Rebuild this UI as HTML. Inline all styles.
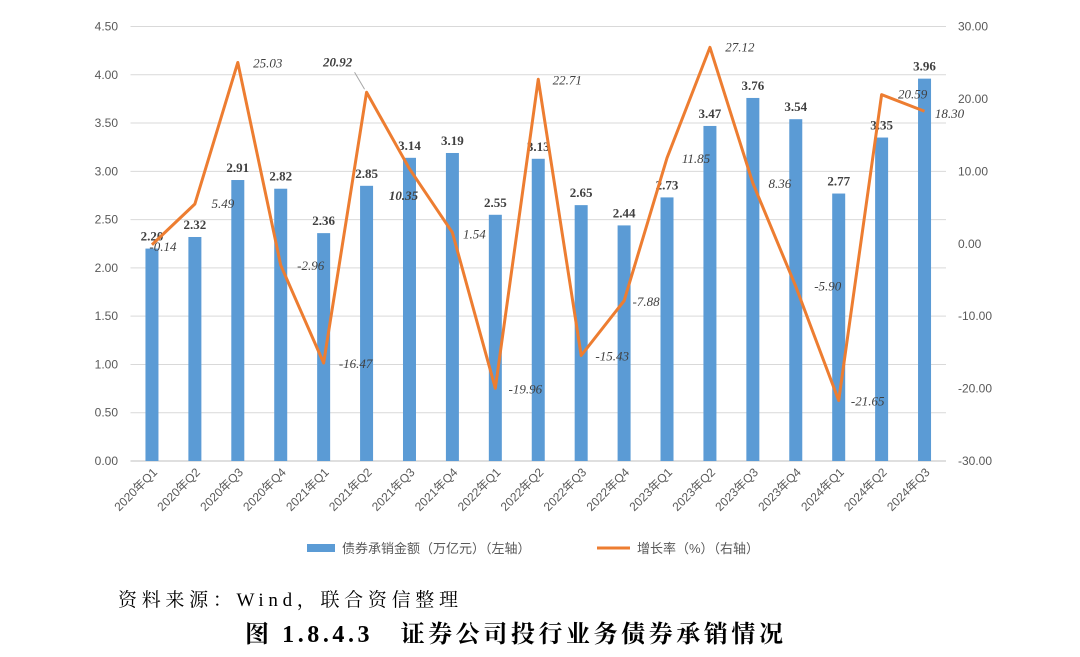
<!DOCTYPE html>
<html><head><meta charset="utf-8"><style>
body{margin:0;background:#fff;width:1080px;height:657px;overflow:hidden}
svg{display:block}
</style></head><body>
<svg id="c" width="1080" height="657" xmlns="http://www.w3.org/2000/svg"></svg>
<script>
const categories=["2020年Q1","2020年Q2","2020年Q3","2020年Q4","2021年Q1","2021年Q2","2021年Q3","2021年Q4","2022年Q1","2022年Q2","2022年Q3","2022年Q4","2023年Q1","2023年Q2","2023年Q3","2023年Q4","2024年Q1","2024年Q2","2024年Q3"];
const amounts=[2.20,2.32,2.91,2.82,2.36,2.85,3.14,3.19,2.55,3.13,2.65,2.44,2.73,3.47,3.76,3.54,2.77,3.35,3.96];
const growth=[-0.14,5.49,25.03,-2.96,-16.47,20.92,10.35,1.54,-19.96,22.71,-15.43,-7.88,11.85,27.12,8.36,-5.90,-21.65,20.59,18.30];
const leftTicks=[0,0.5,1,1.5,2,2.5,3,3.5,4,4.5];
const rightTicks=[-30,-20,-10,0,10,20,30];

const NS="http://www.w3.org/2000/svg";
const svg=document.getElementById('c');
const X0=130.5,X1=946,Y0=461,Y1=26.5;
const step=(X1-X0)/categories.length;
const xC=i=>X0+step*(i+0.5);
const yL=v=>Y0-(v/4.5)*(Y0-Y1);
const yR=v=>Y0-((v+30)/60)*(Y0-Y1);
function el(t,a,txt){const e=document.createElementNS(NS,t);for(const k in a)e.setAttribute(k,a[k]);if(txt!==undefined)e.textContent=txt;svg.appendChild(e);return e;}
const serif='"Liberation Serif",serif';
const sans='"Liberation Sans","Noto Sans CJK SC",sans-serif';

leftTicks.forEach(v=>{
  const g=el('line',{x1:X0,x2:X1,y1:yL(v),y2:yL(v),stroke:v===0?'#bfbfbf':'#d9d9d9','stroke-width':1});
  
  
  const t=el('text',{x:118,y:yL(v)+4,'text-anchor':'end','font-family':sans,'font-size':12,fill:'#595959'},v.toFixed(2));
  
  
});
rightTicks.forEach(v=>{
  const t=el('text',{x:958,y:yR(v)+4,'text-anchor':'start','font-family':sans,'font-size':12,fill:'#595959'},v.toFixed(2));
  
  
});
categories.forEach((c,i)=>{
  const x=xC(i);
  const b=el('rect',{x:x-6.5,y:yL(amounts[i]),width:13,height:Y0-yL(amounts[i]),fill:'#5B9BD5'});
  
  
  const t=el('text',{x:x,y:yL(amounts[i])-8,'text-anchor':'middle','font-family':serif,'font-size':13,'font-weight':'bold',fill:'#404040'},amounts[i].toFixed(2));
  
  
  const xl=el('text',{x:x+6,y:Y0+12,'text-anchor':'end','font-family':sans,'font-size':12,fill:'#595959',transform:`rotate(-45 ${x+6} ${Y0+12})`},c);
  
  
});
const pts=growth.map((v,i)=>xC(i)+','+yR(v)).join(' ');
const line=el('polyline',{points:pts,fill:'none',stroke:'#ED7D31','stroke-width':3,'stroke-linejoin':'round'});


const offs=[[11,6],[28,4],[30,5],[30,5],[32,5],[-29,-26],[-6,31],[22,6],[30,5],[29,5],[31,5],[22,5],[29,5],[30,4],[27,5],[32,4],[29,5],[31,4],[25,7]];
growth.forEach((v,i)=>{
  const x=xC(i)+offs[i][0],y=yR(v)+offs[i][1];
  const bold=(i===5||i===6);
  const t=el('text',{x:x,y:y,'text-anchor':'middle','font-family':serif,'font-size':13,'font-style':'italic','font-weight':bold?'bold':'normal',fill:'#404040'},v.toFixed(2));
  
  
});
const ld=el('line',{x1:xC(5)-12,y1:yR(growth[5])-20,x2:xC(5)-2,y2:yR(growth[5])-3,stroke:'#a6a6a6','stroke-width':1});



const lb=el('rect',{x:307,y:544,width:28,height:8,fill:'#5B9BD5'});


const lt1=el('text',{x:342,y:553,'font-family':sans,'font-size':13,fill:'#595959'},'债券承销金额（万亿元）（左轴）');


const ll=el('line',{x1:597,x2:630,y1:548,y2:548,stroke:'#ED7D31','stroke-width':3});


const lt2=el('text',{x:637,y:553,'font-family':sans,'font-size':13,fill:'#595959'},'增长率（%）（右轴）');


const src=el('text',{x:118,y:606,'font-family':'"Liberation Serif","Noto Serif CJK SC",serif','font-size':19,fill:'#000',textLength:340,lengthAdjust:'spacing'},'资料来源：Wind，联合资信整理');


const ti=el('text',{x:245,y:642,'font-family':'"Liberation Serif","Noto Serif CJK SC",serif','font-size':24,'font-weight':'bold',fill:'#000',textLength:538,lengthAdjust:'spacing'},'图 1.8.4.3　证券公司投行业务债券承销情况');


</script>
</body></html>
